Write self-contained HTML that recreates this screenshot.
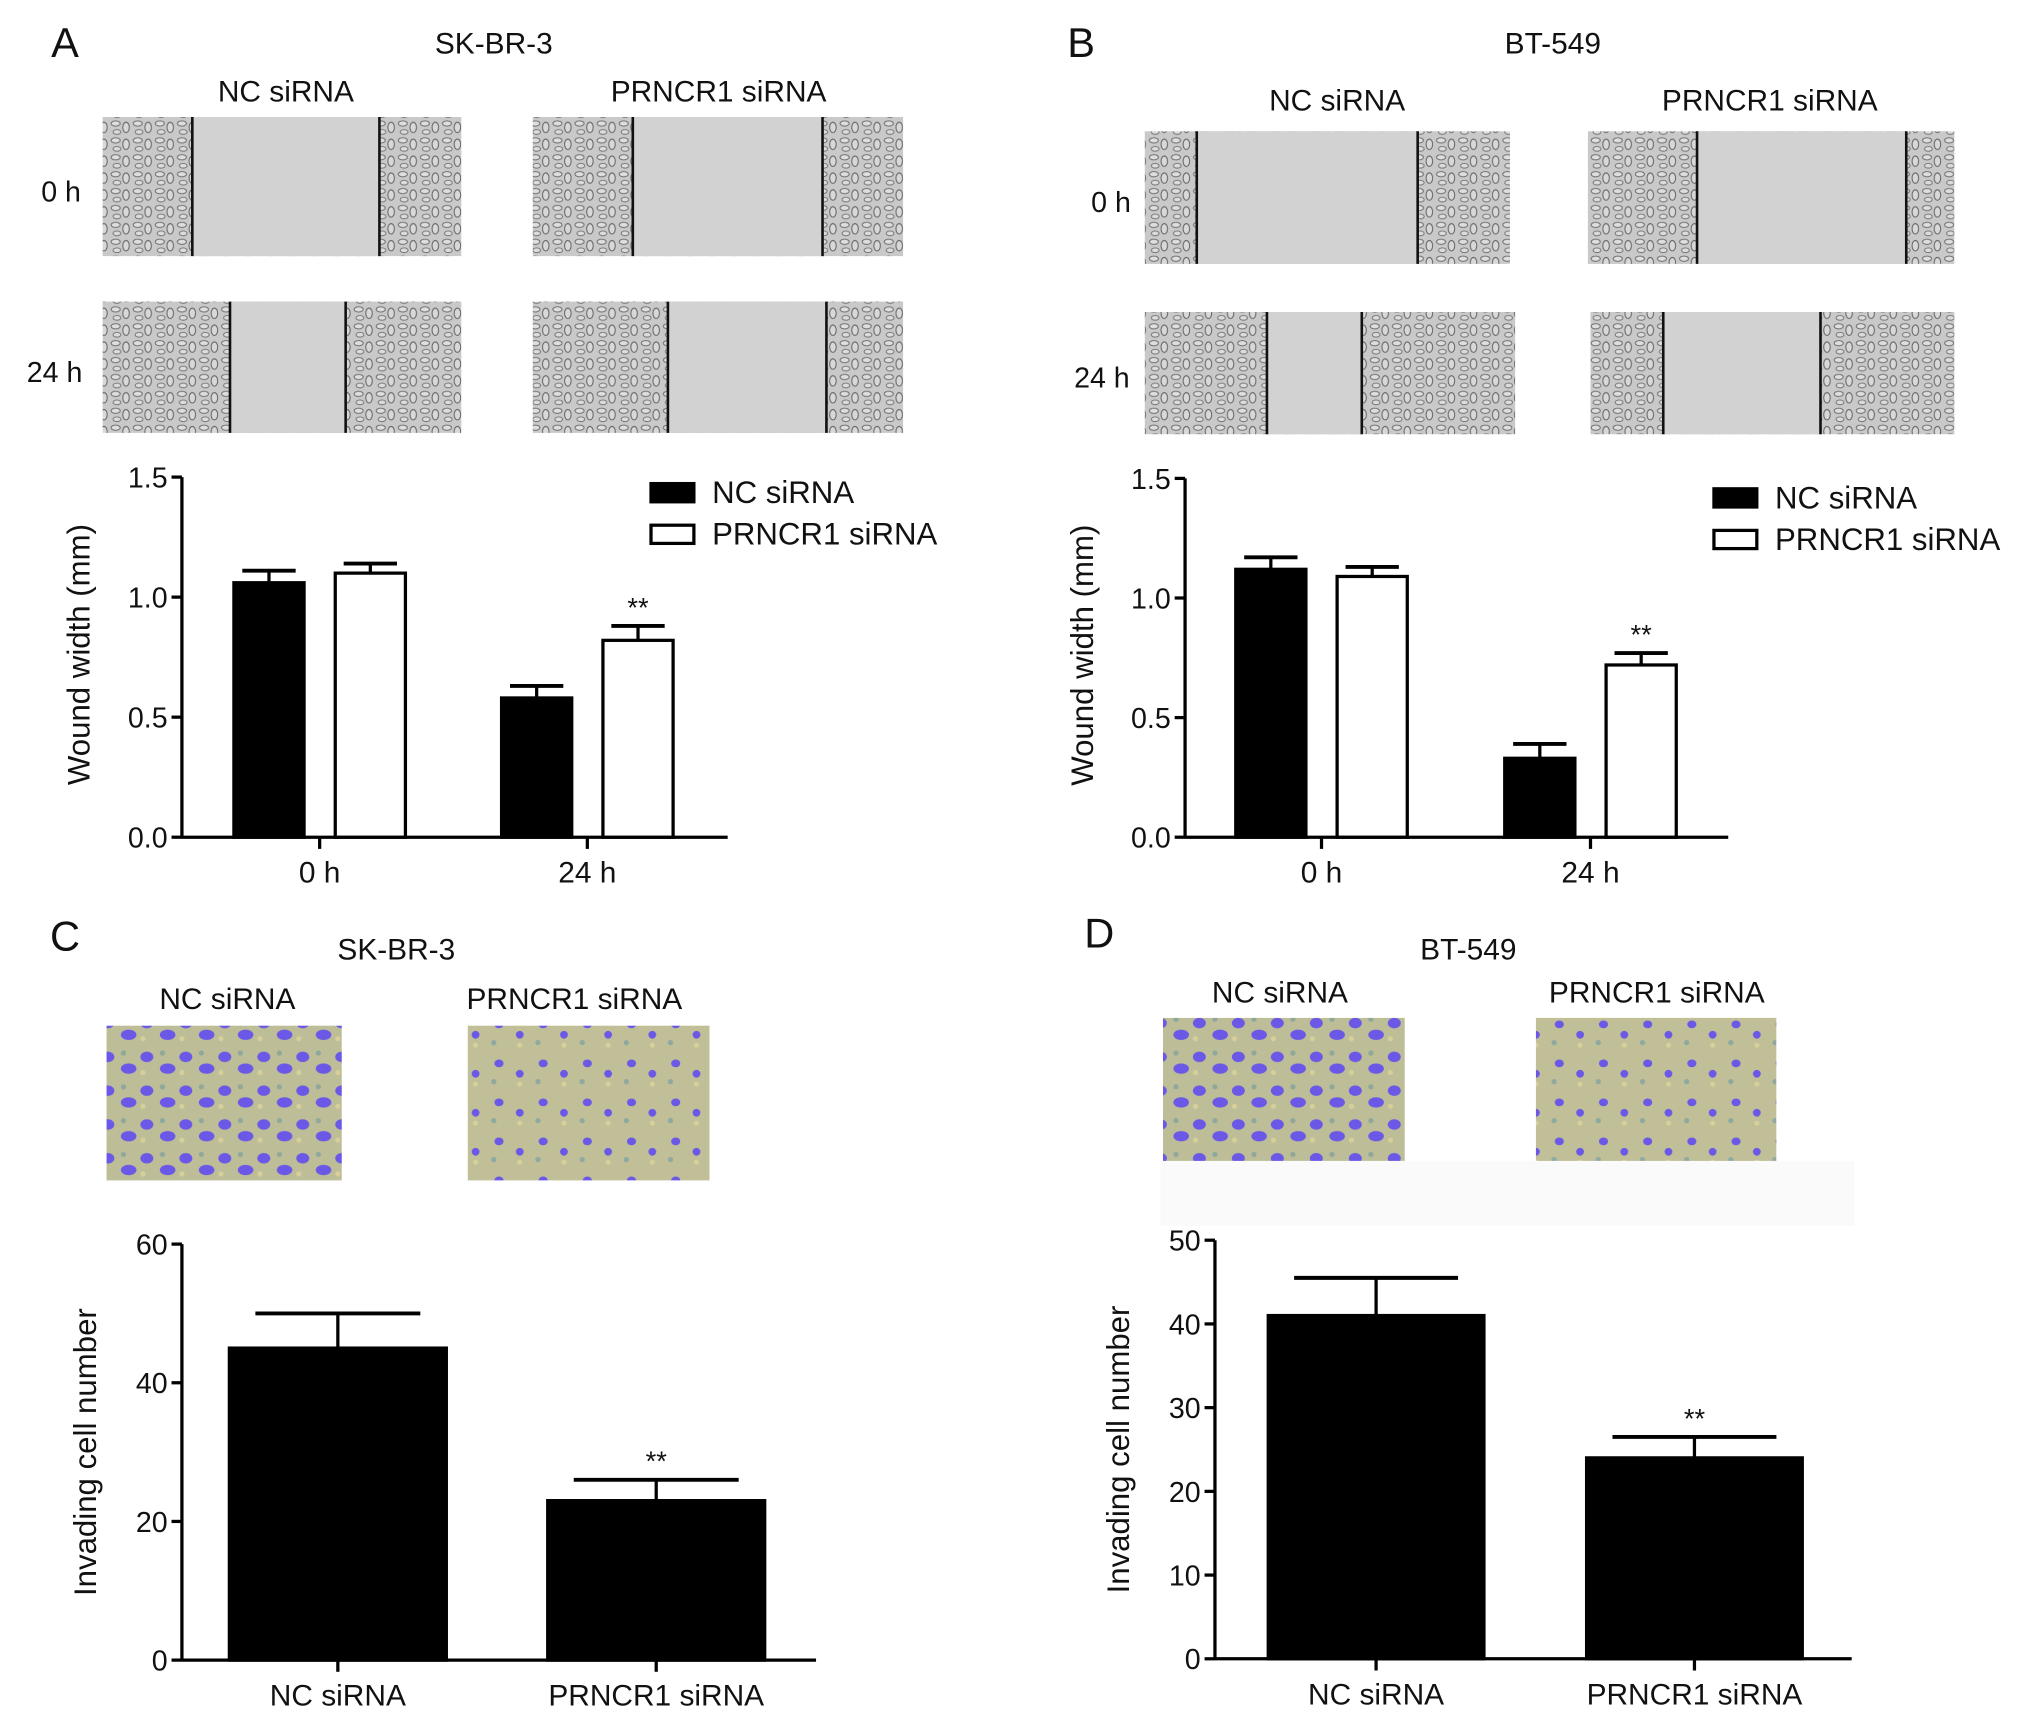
<!DOCTYPE html>
<html><head><meta charset="utf-8"><style>
html,body{margin:0;padding:0;background:#fff;}
svg{display:block;font-family:"Liberation Sans",Arial,sans-serif;}
</style></head><body>
<svg id="fig" width="2031" height="1729" viewBox="0 0 1563 1330" preserveAspectRatio="none" xmlns="http://www.w3.org/2000/svg">
<defs>
<pattern id="cells" width="17" height="13" patternUnits="userSpaceOnUse">
<rect width="17" height="13" fill="#c9c9c9"/>
<ellipse cx="4" cy="4" rx="3.5" ry="2" fill="#dedede" stroke="#707070" stroke-width="0.8"/>
<ellipse cx="12" cy="7" rx="2.5" ry="4" fill="#d8d8d8" stroke="#666" stroke-width="0.8"/>
<ellipse cx="5" cy="10.5" rx="3" ry="1.8" fill="#dcdcdc" stroke="#7a7a7a" stroke-width="0.8"/>
</pattern>
<pattern id="inv" width="30" height="26" patternUnits="userSpaceOnUse">
<rect width="30" height="26" fill="#bdbd98"/>
<circle cx="5" cy="4" r="2" fill="#8fa89a"/>
<circle cx="20" cy="19" r="2" fill="#d6cf9a"/>
<ellipse cx="9" cy="16" rx="6" ry="4" fill="#6b58e6"/>
<ellipse cx="23" cy="7" rx="5" ry="4" fill="#6b58e6"/>
</pattern>
<pattern id="inv2" width="34" height="30" patternUnits="userSpaceOnUse">
<rect width="34" height="30" fill="#c0bf98"/>
<circle cx="6" cy="22" r="2" fill="#8fa8a0"/>
<circle cx="26" cy="24" r="2" fill="#d8d09a"/>
<ellipse cx="10" cy="8" rx="3.5" ry="3" fill="#6b58e6"/>
<ellipse cx="26" cy="16" rx="3" ry="3" fill="#6b58e6"/>
</pattern>
</defs>
</svg>
<script>
// ===== data =====
const woundGroups = ["0 h", "24 h"];
const seriesNames = ["NC siRNA", "PRNCR1 siRNA"];
const woundA_NC = [1.06, 0.58];
const woundA_PR = [1.10, 0.82];
const woundA_NC_err = [0.05, 0.05];
const woundA_PR_err = [0.04, 0.06];
const woundB_NC = [1.12, 0.33];
const woundB_PR = [1.09, 0.72];
const woundB_NC_err = [0.05, 0.06];
const woundB_PR_err = [0.04, 0.05];
const woundTicks = [0, 0.5, 1.0, 1.5];
const woundTickLabels = ["0.0", "0.5", "1.0", "1.5"];
const invCategories = ["NC siRNA", "PRNCR1 siRNA"];
const invC = [45, 23];
const invC_err = [5, 3];
const invCTicks = [0, 20, 40, 60];
const invD = [41, 24];
const invD_err = [4.5, 2.5];
const invDTicks = [0, 10, 20, 30, 40, 50];

const NS = "http://www.w3.org/2000/svg";
const root = document.getElementById("fig");
function mk(tag, attrs, parent) {
  const e = document.createElementNS(NS, tag);
  for (const k in attrs) e.setAttribute(k, attrs[k]);
  (parent || root).appendChild(e);
  return e;
}
function txt(x, y, s, size, name, anchor, extra) {
  const t = mk("text", Object.assign({x: x, y: y, "font-size": size, "text-anchor": anchor || "middle", fill: "#111"}, extra || {}));
  t.textContent = s;
  
  
  return t;
}

// ===== panel letters and titles =====
txt(50, 44, "A", 32, "panel-label-a");
txt(832, 44, "B", 32, "panel-label-b");
txt(50, 731, "C", 32, "panel-label-c");
txt(846, 729, "D", 32, "panel-label-d");
txt(380, 41, "SK-BR-3", 23, "panel-a-title");
txt(1195, 41, "BT-549", 23, "panel-b-title");
txt(305, 738, "SK-BR-3", 23, "panel-c-title");
txt(1130, 738, "BT-549", 23, "panel-d-title");
txt(220, 78, "NC siRNA", 23, "panel-a-nc-header");
txt(553, 78, "PRNCR1 siRNA", 23, "panel-a-prncr1-header");
txt(1029, 85, "NC siRNA", 23, "panel-b-nc-header");
txt(1362, 85, "PRNCR1 siRNA", 23, "panel-b-prncr1-header");
txt(175, 776, "NC siRNA", 23, "panel-c-nc-header");
txt(442, 776, "PRNCR1 siRNA", 23, "panel-c-prncr1-header");
txt(985, 771, "NC siRNA", 23, "panel-d-nc-header");
txt(1275, 771, "PRNCR1 siRNA", 23, "panel-d-prncr1-header");
txt(47, 155, "0 h", 22, "panel-a-row-0h");
txt(42, 294, "24 h", 22, "panel-a-row-24h");
txt(855, 163, "0 h", 22, "panel-b-row-0h");
txt(848, 298, "24 h", 22, "panel-b-row-24h");

// ===== micrograph images =====
function wound(x, y, w, h, l1, l2, name) {
  const g = mk("g", {});
  
  
  mk("rect", {x: x, y: y, width: w, height: h, fill: "url(#cells)"}, g);
  mk("rect", {x: l1, y: y, width: l2 - l1, height: h, fill: "#d2d2d2"}, g);
  mk("line", {x1: l1, y1: y, x2: l1, y2: y + h, stroke: "#111", "stroke-width": 2}, g);
  mk("line", {x1: l2, y1: y, x2: l2, y2: y + h, stroke: "#111", "stroke-width": 2}, g);
}
wound(79, 90, 276, 107, 148, 292, "image-a-nc-0h");
wound(410, 90, 285, 107, 487, 633, "image-a-prncr1-0h");
wound(79, 232, 276, 101, 177, 266, "image-a-nc-24h");
wound(410, 232, 285, 101, 514, 636, "image-a-prncr1-24h");
wound(881, 101, 281, 102, 921, 1091, "image-b-nc-0h");
wound(1222, 101, 282, 102, 1306, 1467, "image-b-prncr1-0h");
wound(881, 240, 285, 94, 975, 1048, "image-b-nc-24h");
wound(1224, 240, 280, 94, 1280, 1401, "image-b-prncr1-24h");
function inv(x, y, w, h, fill, name) {
  const r = mk("rect", {x: x, y: y, width: w, height: h, fill: fill});
  
  
}
mk("rect", {x: 893, y: 893, width: 534, height: 50, fill: "#fafafa"});
inv(82, 789, 181, 119, "url(#inv)", "image-c-nc");
inv(360, 789, 186, 119, "url(#inv2)", "image-c-prncr1");
inv(895, 783, 186, 110, "url(#inv)", "image-d-nc");
inv(1182, 783, 185, 110, "url(#inv2)", "image-d-prncr1");

// ===== generic axis helpers =====
function yAxis(ax, ticks, labels, name) {
  const g = mk("g", {});
  
  
  mk("line", {x1: ax.x0, y1: ax.sy(ticks[ticks.length - 1]), x2: ax.x0, y2: ax.y0 + 1, stroke: "#000", "stroke-width": 2.5}, g);
  ticks.forEach((t, i) => {
    const y = ax.sy(t);
    mk("line", {x1: ax.x0 - 8, y1: y, x2: ax.x0, y2: y, stroke: "#000", "stroke-width": 2.5}, g);
    const l = txt(ax.x0 - 11, y + 8, labels[i], 22, "y-tick-label", "end");
    g.appendChild(l);
  });
}
function xAxis(ax, centers, labels, name) {
  const g = mk("g", {});
  
  
  mk("line", {x1: ax.x0, y1: ax.y0, x2: ax.x1, y2: ax.y0, stroke: "#000", "stroke-width": 2.5}, g);
  centers.forEach((c, i) => {
    mk("line", {x1: c, y1: ax.y0, x2: c, y2: ax.y0 + 9, stroke: "#000", "stroke-width": 2.5}, g);
    g.appendChild(txt(c, ax.y0 + 35, labels[i], 23, "x-tick-label"));
  });
}
function bar(ax, x, w, v, e, filled, name) {
  const top = ax.sy(v), et = ax.sy(v + e), cx = x + w / 2;
  const cap = w * 0.38;
  const el = mk("line", {x1: cx, y1: top, x2: cx, y2: et, stroke: "#000", "stroke-width": 2.5});
  
  
  const cp = mk("line", {x1: cx - cap, y1: et, x2: cx + cap, y2: et, stroke: "#000", "stroke-width": 3});
  
  
  const r = mk("rect", {x: x, y: top, width: w, height: ax.y0 - top, fill: filled ? "#000" : "#fff", stroke: "#000", "stroke-width": 2.5});
  
  
}
function stars(x, y, name) {
  txt(x, y, "**", 21, name);
}

// ===== wound charts =====
function woundChart(cfg, nc, pr, ncE, prE, p) {
  const ax = {x0: cfg.x0, x1: cfg.x1, y0: cfg.y0, sy: v => cfg.y0 - (v / 1.5) * (cfg.y0 - cfg.yTop)};
  yAxis(ax, woundTicks, woundTickLabels, p + "-y-axis");
  xAxis(ax, cfg.centers, woundGroups, p + "-x-axis");
  woundGroups.forEach((gname, i) => {
    const c = cfg.centers[i];
    bar(ax, c - cfg.bw - cfg.gap / 2, cfg.bw, nc[i], ncE[i], true, p + "-bar-nc-" + i);
    bar(ax, c + cfg.gap / 2, cfg.bw, pr[i], prE[i], false, p + "-bar-prncr1-" + i);
  });
  stars(cfg.centers[1] + cfg.gap / 2 + cfg.bw / 2, ax.sy(pr[1] + prE[1]) - 7, p + "-significance");
  const tx = cfg.x0 - 71, ty = (cfg.y0 + cfg.yTop) / 2 - 2;
  txt(tx, ty, "Wound width (mm)", 24, p + "-y-axis-title", "middle",
      {transform: `rotate(-90 ${tx} ${ty})`});
  const lg = mk("g", {});
  
  
  mk("rect", {x: cfg.lx, y: cfg.ly - 7, width: 33, height: 14, fill: "#000", stroke: "#000", "stroke-width": 2.5}, lg);
  mk("rect", {x: cfg.lx, y: cfg.ly + 25, width: 33, height: 14, fill: "#fff", stroke: "#000", "stroke-width": 2.5}, lg);
  lg.appendChild(txt(cfg.lx + 47, cfg.ly + 8, seriesNames[0], 24, "legend-entry-nc", "start"));
  lg.appendChild(txt(cfg.lx + 47, cfg.ly + 40, seriesNames[1], 24, "legend-entry-prncr1", "start"));
}
woundChart({x0: 140, x1: 560, y0: 644, yTop: 367, centers: [246, 452], bw: 54, gap: 24, lx: 501, ly: 379},
  woundA_NC, woundA_PR, woundA_NC_err, woundA_PR_err, "chart-a");
woundChart({x0: 912, x1: 1330, y0: 644, yTop: 368, centers: [1017, 1224], bw: 54, gap: 24, lx: 1319, ly: 383},
  woundB_NC, woundB_PR, woundB_NC_err, woundB_PR_err, "chart-b");

// ===== invasion charts =====
function invChart(cfg, vals, errs, ticks, p) {
  const max = ticks[ticks.length - 1];
  const ax = {x0: cfg.x0, x1: cfg.x1, y0: cfg.y0, sy: v => cfg.y0 - (v / max) * (cfg.y0 - cfg.yTop)};
  yAxis(ax, ticks, ticks.map(String), p + "-y-axis");
  xAxis(ax, cfg.centers, invCategories, p + "-x-axis");
  vals.forEach((v, i) => bar(ax, cfg.centers[i] - cfg.bw / 2, cfg.bw, v, errs[i], true, p + "-bar-" + i));
  stars(cfg.centers[1], ax.sy(vals[1] + errs[1]) - 7, p + "-significance");
  const ty = (cfg.y0 + cfg.yTop) / 2, tx = cfg.x0 - 66;
  txt(tx, ty, "Invading cell number", 24, p + "-y-axis-title", "middle",
      {transform: `rotate(-90 ${tx} ${ty})`});
}
invChart({x0: 140, x1: 628, y0: 1277, yTop: 957, centers: [260, 505], bw: 167}, invC, invC_err, invCTicks, "chart-c");
invChart({x0: 935, x1: 1425, y0: 1276, yTop: 954, centers: [1059, 1304], bw: 166}, invD, invD_err, invDTicks, "chart-d");
</script>
</body></html>
